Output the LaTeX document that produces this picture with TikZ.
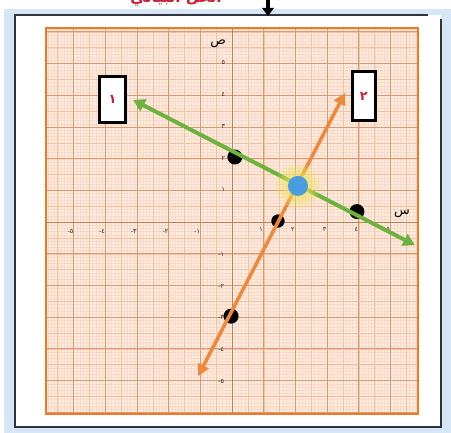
\documentclass[tikz,border=0pt]{standalone}
\usepackage{fontspec}
\usepackage{xcolor}
\usetikzlibrary{arrows.meta}
\TeXXeTstate=1
\newfontfamily\arabicfont[Script=Arabic]{DejaVu Sans}
\definecolor{framebg}{RGB}{214,230,247}
\definecolor{framedk}{RGB}{45,52,62}
\definecolor{paperbg}{RGB}{253,236,224}
\definecolor{gridfine}{RGB}{250,218,198}
\definecolor{gridmid}{RGB}{243,194,162}
\definecolor{gridmaj}{RGB}{214,154,116}
\definecolor{paperedge}{RGB}{240,122,36}
\definecolor{lineg}{RGB}{108,178,62}
\definecolor{lineo}{RGB}{240,136,58}
\definecolor{solblue}{RGB}{74,156,224}
\definecolor{glow}{RGB}{238,228,90}
\definecolor{tagred}{RGB}{205,30,55}

\begin{document}
\begin{tikzpicture}[
  x=0.03cm, y=-0.03cm,
  tick/.style={font=\arabicfont\fontsize{5.5}{6}\selectfont, inner sep=0pt, text=black!85},
  axlbl/.style={font=\arabicfont\fontsize{11}{11}\selectfont, inner sep=0pt},
  tag/.style={draw, line width=2.4pt, fill=white, text=tagred, inner sep=0pt,
    font=\arabicfont\bfseries\fontsize{11}{11}\selectfont},
  dot/.style={circle, fill=black, minimum size=0.45cm, inner sep=0pt},
  sol/.style={circle, fill=solblue, minimum size=0.6cm, inner sep=0pt},
  gline/.style={lineg, line width=3.4pt,
    {Triangle[length=10pt,width=11pt]}-{Triangle[length=10pt,width=11pt]}},
  oline/.style={lineo, line width=3pt,
    {Triangle[length=10pt,width=10pt]}-{Triangle[length=10pt,width=10pt]}},
]
\useasboundingbox (0,0) rectangle (451,433);
% frame
\fill[framebg] (4,9) rectangle (451,433);
\fill[white] (15,15) rectangle (441,427);
\draw[framedk, line width=1.6pt] (428,15) -- (15,15) -- (15,427) -- (441,427) -- (441,19);
\node[font=\arabicfont\bfseries\fontsize{13}{13}\selectfont, text=tagred, anchor=base, inner sep=0pt]
  (title) at (176,3) {\beginR الحل البياني\endR};
\coordinate (arrS) at (268,-2);
\coordinate (arrE) at (268,16);
\draw[black, line width=3pt, -{Triangle[length=7pt,width=10pt]}] (arrS) -- (arrE);

\begin{scope}[shift={(6.96cm,-6.66cm)}, x=0.951cm, y=0.951cm]
% graph paper
\fill[paperbg] (-5.87,-6.06) rectangle (5.87,6.12);
\draw[gridfine, line width=0.15pt, step=0.1] (-5.87,-6.06) grid (5.87,6.12);
\draw[gridmid, line width=0.3pt, step=0.5] (-5.87,-6.06) grid (5.87,6.12);
\draw[gridmaj, line width=0.55pt, step=1] (-5.87,-6.06) grid (5.87,6.12);
\draw[gridmaj!85!black, line width=0.8pt] (-5.87,0) -- (5.87,0) (0,-6.06) -- (0,6.12);
\draw[paperedge, line width=2pt] (-5.87,-6.06) rectangle (5.87,6.12);

\foreach \i/\t in {1/١,2/٢,3/٣,4/٤,5/٥} {
  \node[tick] (xp\i) at (\i-0.08,-0.25) {\t};
  \node[tick] (xn\i) at (-\i-0.1,-0.29) {\t-};
  \node[tick] (yp\i) at (-0.27,\i+0.02) {\t};
  \node[tick] (yn\i) at (-0.34,-\i-0.02) {\t-};
}
\node[axlbl] (ylab) at (-0.44,5.63) {ص};
\node[axlbl] (xlab) at (5.36,0.25) {س};

\node[dot] (pA) at (0.09,2.05) {};
\node[dot, minimum size=0.4cm] (pB) at (1.45,0.03) {};
\node[dot] (pC) at (3.94,0.33) {};
\node[dot] (pD) at (-0.03,-2.97) {};

\coordinate (g1) at (-3.12,3.85);
\coordinate (g2) at (5.77,-0.73);
\coordinate (o1) at (-1.07,-4.86);
\coordinate (o2) at (3.56,4.07);
\draw[oline] (o1) -- (o2);
\draw[gline] (g1) -- (g2);

\foreach \r in {0.7,0.6,0.5,0.42,0.36}
  \fill[glow, opacity=0.2] (2.08,1.14) circle (\r);
\node[sol] (sol) at (2.08,1.14) {};

\node[tag, minimum width=0.78cm, minimum height=1.38cm] (tag1) at (-3.77,3.86) {١};
\node[tag, minimum width=0.7cm, minimum height=1.47cm] (tag2) at (4.16,3.97) {٢};
\end{scope}
\end{tikzpicture}
\end{document}
